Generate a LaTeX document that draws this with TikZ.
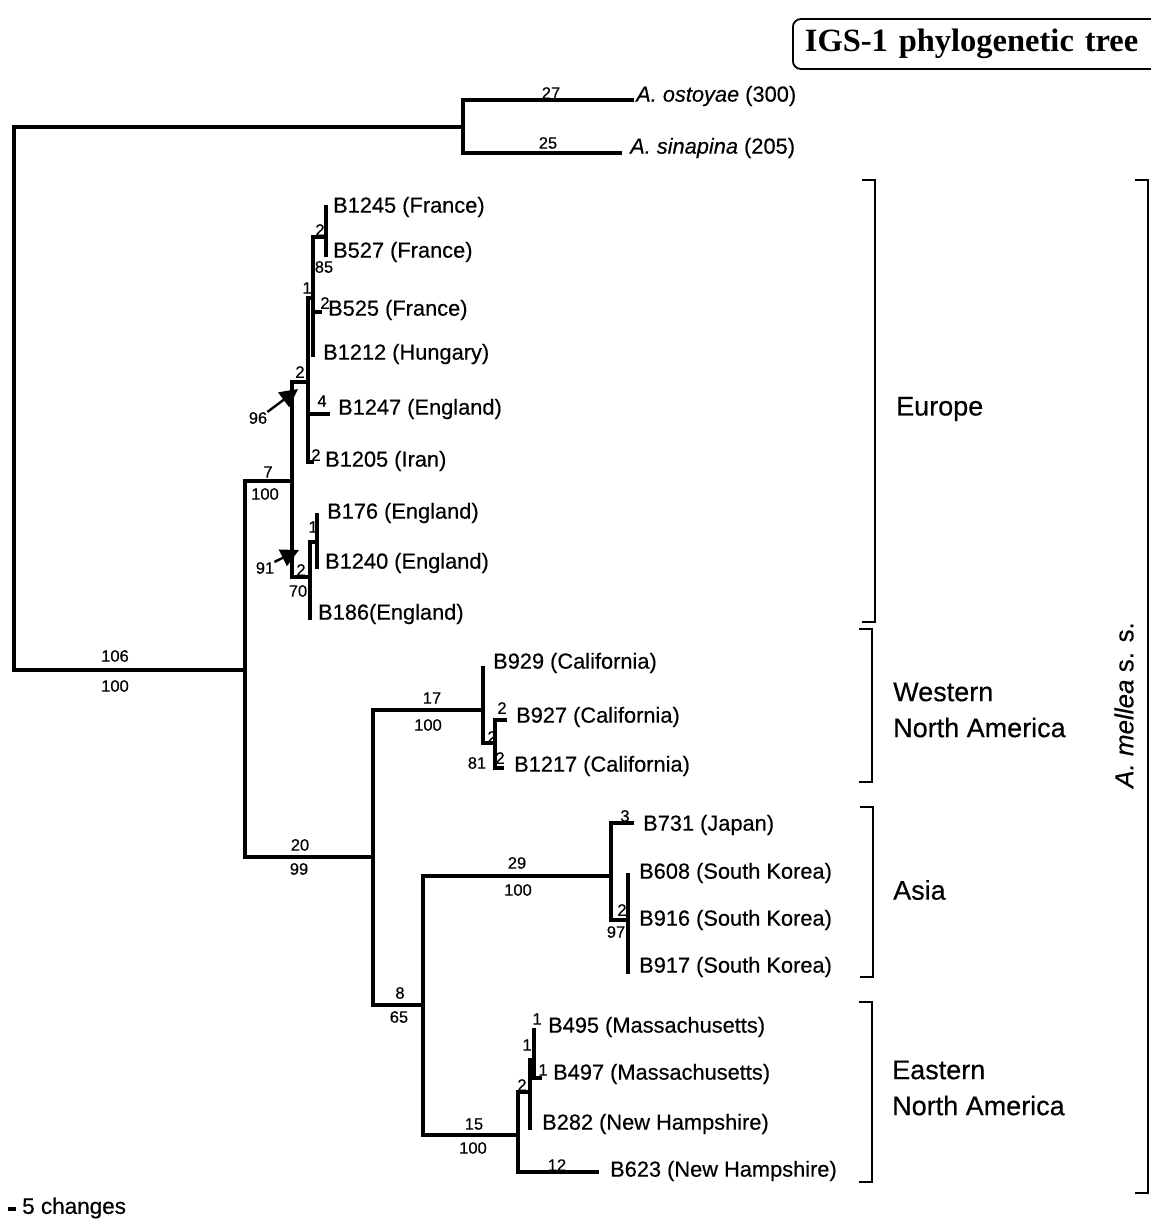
\documentclass[tikz,border=0pt]{standalone}
\usepackage{fontspec}
\setmainfont{Liberation Sans}[FakeStretch=1.0, FakeBold=0.4]
\newfontfamily\titlefont{Liberation Serif}
\usetikzlibrary{arrows.meta}
\begin{document}
\begin{tikzpicture}[x=1pt,y=-1pt,
  br/.style={line width=3.6pt, line cap=rect},
  brk/.style={line width=2.4pt},
  tip/.style={anchor=west, inner sep=0pt, font=\fontsize{21.8}{24}\selectfont},
  bl/.style={inner sep=0pt, font=\fontsize{16.5}{18}\selectfont},
  reg/.style={anchor=west, inner sep=0pt, align=left, font=\fontsize{27}{36}\selectfont},
  arr/.style={line width=2.4pt, -{Triangle[length=18pt,width=18pt]}}]
\useasboundingbox (0,0) rectangle (1151,1221);
\clip (0,0) rectangle (1151,1221);
\fill[white] (0,0) rectangle (1151,1221);

% title
\node[draw, line width=1.8pt, rounded corners=8pt, anchor=west, minimum height=50pt,
      text width=350pt, inner xsep=12pt, align=left,
      font=\titlefont\bfseries\fontsize{32.5}{34}\selectfont] (title) at (792,44) {IGS-1 phylogenetic tree};

% coordinates of tree nodes
\coordinate (root) at (14,400);
\coordinate (OG) at (463,127);
\coordinate (ost) at (632,100);
\coordinate (sin) at (620,153);
\coordinate (IN) at (245,670);
\coordinate (E1) at (292,481);
\coordinate (E2) at (308,382);
\coordinate (E3) at (313,298);
\coordinate (E4) at (326,237);
\coordinate (t1245) at (326,207);
\coordinate (t527) at (326,255);
\coordinate (t525) at (320,312);
\coordinate (t1212) at (313,355);
\coordinate (t1247) at (328,414);
\coordinate (t1205) at (312,462);
\coordinate (E5) at (310,577);
\coordinate (E6) at (317,542);
\coordinate (t176) at (317,515);
\coordinate (t1240) at (317,567);
\coordinate (t186) at (310,618);
\coordinate (C20) at (373,857);
\coordinate (W1) at (483,710);
\coordinate (t929) at (483,668);
\coordinate (W2) at (495,743);
\coordinate (t927) at (505,720);
\coordinate (t1217) at (502,768);
\coordinate (A0) at (423,1005);
\coordinate (A1) at (611,876);
\coordinate (t731) at (632,823);
\coordinate (A2) at (628,920);
\coordinate (t608) at (628,875);
\coordinate (t916) at (628,922);
\coordinate (t917) at (628,972);
\coordinate (N1) at (518,1135);
\coordinate (N2) at (530,1092);
\coordinate (N3) at (534,1060);
\coordinate (t495) at (534,1030);
\coordinate (t497) at (540,1078);
\coordinate (t282) at (530,1128);
\coordinate (t623) at (597,1172);

% branches
\draw[br] (root) |- (OG);
\draw[br] (root) |- (IN);
\draw[br] (OG) |- (ost);
\draw[br] (OG) |- (sin);
\draw[br] (IN) |- (E1);
\draw[br] (IN) |- (C20);
\draw[br] (E1) |- (E2);
\draw[br] (E1) |- (E5);
\draw[br] (E2) |- (E3);
\draw[br] (E2) |- (t1247);
\draw[br] (E2) |- (t1205);
\draw[br] (E3) |- (E4);
\draw[br] (E3) |- (t525);
\draw[br] (E3) |- (t1212);
\draw[br] (E4) |- (t1245);
\draw[br] (E4) |- (t527);
\draw[br] (E5) |- (E6);
\draw[br] (E5) |- (t186);
\draw[br] (E6) |- (t176);
\draw[br] (E6) |- (t1240);
\draw[br] (C20) |- (W1);
\draw[br] (C20) |- (A0);
\draw[br] (W1) |- (t929);
\draw[br] (W1) |- (W2);
\draw[br] (W2) |- (t927);
\draw[br] (W2) |- (t1217);
\draw[br] (A0) |- (A1);
\draw[br] (A0) |- (N1);
\draw[br] (A1) |- (t731);
\draw[br] (A1) |- (A2);
\draw[br] (A2) |- (t608);
\draw[br] (A2) |- (t916);
\draw[br] (A2) |- (t917);
\draw[br] (N1) |- (N2);
\draw[br] (N1) |- (t623);
\draw[br] (N2) |- (N3);
\draw[br] (N2) |- (t282);
\draw[br] (N3) |- (t495);
\draw[br] (N3) |- (t497);

% tip labels
\node[tip] (Lost) at (636,96) {\textit{A. ostoyae} (300)};
\node[tip] (Lsin) at (630,148) {\textit{A. sinapina} (205)};
\node[tip] (L1245) at (333,207) {B1245 (France)};
\node[tip] (L527) at (333,252) {B527 (France)};
\node[tip] (L525) at (328,310) {B525 (France)};
\node[tip] (L1212) at (323,354) {B1212 (Hungary)};
\node[tip] (L1247) at (338,409) {B1247 (England)};
\node[tip] (L1205) at (325,461) {B1205 (Iran)};
\node[tip] (L176) at (327,513) {B176 (England)};
\node[tip] (L1240) at (325,563) {B1240 (England)};
\node[tip] (L186) at (318,614) {B186(England)};
\node[tip] (L929) at (493,663) {B929 (California)};
\node[tip] (L927) at (516,717) {B927 (California)};
\node[tip] (L1217) at (514,766) {B1217 (California)};
\node[tip] (L731) at (643,825) {B731 (Japan)};
\node[tip] (L608) at (639,873) {B608 (South Korea)};
\node[tip] (L916) at (639,920) {B916 (South Korea)};
\node[tip] (L917) at (639,967) {B917 (South Korea)};
\node[tip] (L495) at (548,1027) {B495 (Massachusetts)};
\node[tip] (L497) at (553,1074) {B497 (Massachusetts)};
\node[tip] (L282) at (542,1124) {B282 (New Hampshire)};
\node[tip] (L623) at (610,1171) {B623 (New Hampshire)};

% branch labels
\node[bl] (b27) at (551,93) {27};
\node[bl] (b25) at (548,143) {25};
\node[bl] (b106) at (115,656) {106};
\node[bl] (s106) at (115,686) {100};
\node[bl] (b7) at (268,472) {7};
\node[bl] (s7) at (265,494) {100};
\node[bl] (b20) at (300,845) {20};
\node[bl] (s20) at (299,869) {99};
\node[bl] (b17) at (432,698) {17};
\node[bl] (s17) at (428,725) {100};
\node[bl] (b8) at (400,993) {8};
\node[bl] (s8) at (399,1017) {65};
\node[bl] (b29) at (517,863) {29};
\node[bl] (s29) at (518,890) {100};
\node[bl] (b15) at (474,1124) {15};
\node[bl] (s15) at (473,1148) {100};
\node[bl] (b12) at (557,1165) {12};
\node[bl] (bE2) at (300,372) {2};
\node[bl] (bE4) at (320,230) {2};
\node[bl] (sE4) at (324,267) {85};
\node[bl] (bE3) at (307,288) {1};
\node[bl] (b525) at (325,303) {2};
\node[bl] (b1247) at (322,401) {4};
\node[bl] (b1205) at (316,455) {2};
\node[bl] (l96) at (258,418) {96};
\node[bl] (l91) at (265,568) {91};
\node[bl] (bE6) at (313,527) {1};
\node[bl] (bE5) at (301,570) {2};
\node[bl] (sE5) at (298,591) {70};
\node[bl] (b927) at (502,708) {2};
\node[bl] (bW2) at (492,737) {2};
\node[bl] (sW2) at (477,763) {81};
\node[bl] (b1217) at (500,758) {2};
\node[bl] (b731) at (625,816) {3};
\node[bl] (bA2) at (622,910) {2};
\node[bl] (sA2) at (616,932) {97};
\node[bl] (b495) at (537,1019) {1};
\node[bl] (bN3) at (527,1045) {1};
\node[bl] (b497) at (543,1070) {1};
\node[bl] (bN2) at (522,1085) {2};

% arrows
\coordinate (a96) at (298,389);
\coordinate (a91) at (299,550);
\draw[arr] (l96.north east) -- (a96);
\draw[arr] (l91.north east) -- (a91);

% region brackets
\coordinate (eu1) at (875,180);
\coordinate (eu2) at (875,622);
\coordinate (wn1) at (872,629);
\coordinate (wn2) at (872,782);
\coordinate (as1) at (873,807);
\coordinate (as2) at (873,977);
\coordinate (en1) at (872,1002);
\coordinate (en2) at (872,1182);
\coordinate (am1) at (1148,180);
\coordinate (am2) at (1148,1193);
\draw[brk] (eu1) ++(-13,0) -- (eu1) -- (eu2) -- ++(-13,0);
\draw[brk] (wn1) ++(-13,0) -- (wn1) -- (wn2) -- ++(-13,0);
\draw[brk] (as1) ++(-13,0) -- (as1) -- (as2) -- ++(-13,0);
\draw[brk] (en1) ++(-13,0) -- (en1) -- (en2) -- ++(-13,0);
\draw[brk] (am1) ++(-13,0) -- (am1) -- (am2) -- ++(-13,0);

\node[reg] (Reu) at (896,409) {Europe};
\node[reg] (Rwn) at (893,710) {Western\\North America};
\node[reg] (Ras) at (893,890) {Asia};
\node[reg] (Ren) at (892,1088) {Eastern\\North America};
\node[inner sep=0pt, rotate=90, font=\fontsize{26}{30}\selectfont] (Ram) at (1124,705) {\textit{A. mellea} \textup{s. s.}};

% scale bar
\coordinate (sb1) at (8,1209);
\coordinate (sb2) at (16,1209);
\draw[line width=3.5pt] (sb1) -- (sb2);
\node[anchor=west, inner sep=0pt, font=\fontsize{22.5}{24}\selectfont] (sbl) at (22,1208) {5 changes};
\end{tikzpicture}
\end{document}
